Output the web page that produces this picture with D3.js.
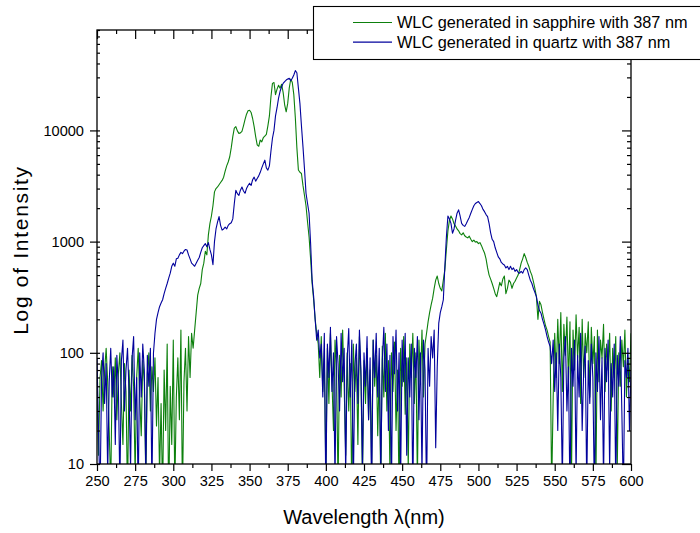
<!DOCTYPE html>
<html>
<head>
<meta charset="utf-8">
<script src="https://cdn.jsdelivr.net/npm/d3@7"></script>
<style>
  body { margin: 0; background: #fff; }
  svg { display: block; font-family: "Liberation Sans", Arial, sans-serif; }
</style>
</head>
<body>
<div id="chart"></div>
<script>
// WAVELENGTH GRID (nm), one reading per nm
const wavelengths = d3.range(250, 601, 1);

// SAPPHIRE SPECTRUM, 250..600 nm
const sapphire = [
  45, 12, 60, 85, 30, 70, 110, 55, 20, 6,
  75, 40, 90, 25, 65, 100, 35, 15, 80, 45,
  5, 70, 30, 95, 50, 8, 60, 110, 40, 18,
  85, 55, 7, 65, 100, 30, 75, 45, 90, 22,
  60, 8, 35, 5, 70, 20, 120, 4, 50, 15,
  130, 6, 40, 90, 25, 160, 5, 55, 110, 30,
  140, 60, 150, 110, 160, 230, 330, 380, 420, 560,
  640, 820, 760, 1150, 1450, 1700, 2100, 2800, 3000, 3100,
  3250, 3400, 3550, 3800, 4300, 4800, 5200, 5800, 7000, 8800,
  10500, 10800, 9900, 9400, 9500, 9800, 11000, 12500, 14000, 15000,
  15200, 14500, 12800, 10800, 8800, 7400, 7200, 8200, 7900, 8600,
  8900, 9200, 11000, 13500, 20000, 26500, 27000, 21000, 23500, 25500,
  24000, 26000, 22000, 17000, 14700, 17500, 24000, 29000, 27000, 21000,
  13000, 7000, 4400, 4200, 4100, 3200, 2600, 2100, 1500, 1100,
  700, 420, 300, 200, 150, 120, 60, 140, 45, 90,
  8, 110, 35, 150, 55, 20, 130, 70, 6, 95,
  40, 160, 50, 12, 100, 30, 80, 5, 120, 45,
  90, 15, 140, 60, 7, 85, 35, 110, 25, 70,
  9, 130, 50, 95, 18, 75, 6, 115, 40, 150,
  30, 85, 8, 100, 45, 125, 20, 70, 5, 110,
  50, 140, 28, 90, 9, 120, 60, 150, 35, 100,
  7, 130, 55, 160, 40, 120, 150, 190, 230, 270,
  310, 380, 450, 490, 420, 380, 360, 450, 560, 850,
  1250, 1550, 1700, 1600, 1450, 1380, 1300, 1250, 1180, 1150,
  1200, 1130, 1100, 1080, 1120, 1050, 1000, 1030, 990, 1000,
  960, 980, 920, 850, 790, 700, 580, 500, 460, 420,
  380, 340, 320, 370, 430, 400, 460, 490, 340, 380,
  450, 430, 380, 420, 440, 470, 500, 560, 640, 700,
  780, 720, 650, 600, 540, 500, 440, 380, 320, 200,
  290, 270, 230, 200, 175, 160, 140, 125, 6, 40,
  150, 60, 200, 80, 230, 45, 180, 95, 210, 55,
  190, 8, 160, 70, 220, 90, 170, 35, 200, 60,
  150, 100, 190, 40, 170, 80, 140, 7, 160, 55,
  130, 90, 180, 45, 120, 70, 150, 30, 110, 60,
  140, 9, 100, 50, 130, 75, 160, 40, 90, 55,
  150
];

// QUARTZ SPECTRUM, 250..600 nm
const quartz = [
  90, 20, 5, 60, 100, 35, 80, 8, 55, 110,
  40, 75, 15, 95, 50, 6, 85, 130, 30, 70,
  110, 45, 9, 90, 140, 25, 60, 5, 100, 40,
  120, 70, 8, 95, 50, 110, 6, 99, 150, 200,
  230, 260, 280, 300, 340, 380, 420, 470, 520, 600,
  640, 600, 700, 710, 760, 800, 780, 820, 850, 840,
  760, 700, 640, 620, 600, 640, 680, 720, 800, 880,
  920, 960, 900, 980, 850, 760, 620, 1000, 1300, 1500,
  1680, 1400, 1270, 1300, 1350, 1300, 1400, 1450, 1480, 1600,
  2200, 2900, 2700, 2600, 2900, 3100, 2850, 2720, 3000, 3200,
  3350, 3200, 3600, 3800, 3500, 3700, 3900, 4200, 4600, 5000,
  5400, 4600, 4400, 4800, 6500, 8500, 10000, 13500, 16000, 19500,
  22500, 24700, 26500, 27500, 28400, 29000, 29400, 28000, 29500, 31500,
  34500, 33000, 24000, 17500, 11000, 7150, 4500, 2720, 2200, 1800,
  968, 450, 320, 198, 130, 160, 90, 120, 40, 150,
  5, 120, 60, 170, 45, 100, 7, 140, 80, 30,
  150, 55, 110, 8, 90, 165, 40, 130, 6, 75,
  120, 35, 160, 70, 9, 100, 50, 140, 25, 90,
  5, 130, 60, 150, 40, 110, 8, 85, 170, 45,
  120, 20, 95, 6, 140, 65, 160, 30, 100, 7,
  130, 55, 150, 12, 90, 40, 120, 5, 110, 60,
  140, 25, 100, 8, 130, 70, 5, 110, 50, 140,
  90, 160, 14, 75, 185, 230, 260, 300, 600, 1100,
  1700, 1600, 1460, 1190, 1300, 1550, 1800, 1930, 1700, 1460,
  1400, 1370, 1450, 1550, 1650, 1800, 1950, 2100, 2200, 2250,
  2290, 2200, 2100, 1950, 1860, 1750, 1680, 1450, 1200, 1050,
  1000, 880, 800, 730, 700, 650, 630, 617, 580, 600,
  560, 600, 560, 580, 540, 560, 530, 520, 540, 520,
  560, 580, 560, 500, 450, 422, 380, 350, 320, 270,
  240, 227, 200, 180, 161, 140, 125, 114, 80, 130,
  45, 100, 20, 120, 60, 7, 90, 140, 30, 75,
  5, 110, 50, 130, 8, 95, 40, 150, 20, 70,
  115, 6, 85, 35, 120, 60, 5, 100, 45, 140,
  25, 90, 7, 110, 55, 130, 9, 80, 40, 120,
  6, 95, 50, 140, 30, 5, 85, 60, 110, 20,
  70
];

// AXIS TICKS AND LABELS
const xTicks = [250, 275, 300, 325, 350, 375, 400, 425, 450, 475, 500, 525, 550, 575, 600];
const yTicks = [10, 100, 1000, 10000];
const seriesNames = ["WLC generated in sapphire with 387 nm", "WLC generated in quartz with 387 nm"];
const seriesColors = ["#0d800d", "#02029c"];

// SVG SIZE AND PLOT BOX
const w = 700;
const h = 533;
const pLeft = 97, pRight = 631, pTop = 30, pBottom = 464;

const svg = d3.select("#chart").append("svg").attr("width", w).attr("height", h);

const xScale = d3.scaleLinear().domain([250, 600]).range([pLeft, pRight]);
const yScale = d3.scaleLog().domain([10, 80000]).range([pBottom, pTop]);

// minor ticks: halfway between x majors, 2..9 per decade on y
const xMinor = d3.pairs(xTicks).map(([a, b]) => (a + b) / 2);
const yMinor = [];
yTicks.forEach((d) => {
  for (let k = 2; k <= 9; k++) if (d * k <= 80000) yMinor.push(d * k);
});

// CLIP THE SPECTRA TO THE PLOT BOX
svg.append("clipPath").attr("id", "plot-clip")
  .append("rect")
  .attr("x", pLeft).attr("y", pTop)
  .attr("width", pRight - pLeft).attr("height", pBottom - pTop);

const line = d3.line()
  .x((d) => xScale(d[0]))
  .y((d) => yScale(Math.max(d[1], 1)));

[sapphire, quartz].forEach((series, i) => {
  const pts = wavelengths.map((wl, j) => [wl, series[j]]);
  svg.append("path")
    .datum(pts)
    .attr("clip-path", "url(#plot-clip)")
    .attr("fill", "none")
    .attr("stroke", seriesColors[i])
    .attr("stroke-width", 1.1)
    .attr("stroke-linejoin", "round")
    .attr("d", line);
});

// AXES
function addAxis(axis, tx, ty) {
  const g = svg.append("g")
    .attr("transform", "translate(" + tx + "," + ty + ")")
    .call(axis);
  g.select(".domain").remove();
  g.selectAll("line").attr("stroke", "#000").attr("stroke-width", 1.2);
  g.selectAll("text").attr("fill", "#000").style("font-size", "14.6px");
  return g;
}

// bottom: ticks point out
addAxis(d3.axisBottom(xScale).tickValues(xTicks).tickSize(7).tickPadding(5), 0, pBottom);
addAxis(d3.axisBottom(xScale).tickValues(xMinor).tickSize(4).tickFormat(""), 0, pBottom);
// top: ticks point in
addAxis(d3.axisTop(xScale).tickValues(xTicks).tickSize(-9).tickFormat(""), 0, pTop);
addAxis(d3.axisTop(xScale).tickValues(xMinor).tickSize(-4).tickFormat(""), 0, pTop);
// left: majors out, minors in
addAxis(d3.axisLeft(yScale).tickValues(yTicks).tickSize(7).tickPadding(6).tickFormat(d3.format("d")), pLeft, 0);
addAxis(d3.axisLeft(yScale).tickValues(yTicks).tickSize(-3).tickFormat(""), pLeft, 0);
addAxis(d3.axisLeft(yScale).tickValues(yMinor).tickSize(-3).tickFormat(""), pLeft, 0);
// right: ticks point in
addAxis(d3.axisRight(yScale).tickValues(yTicks).tickSize(-9).tickFormat(""), pRight, 0);
addAxis(d3.axisRight(yScale).tickValues(yMinor).tickSize(-4).tickFormat(""), pRight, 0);

// FRAME
svg.append("rect")
  .attr("x", pLeft).attr("y", pTop)
  .attr("width", pRight - pLeft).attr("height", pBottom - pTop)
  .attr("fill", "none")
  .attr("stroke", "#000")
  .attr("stroke-width", 1.3);

// AXIS TITLES
svg.append("text")
  .attr("x", (pLeft + pRight) / 2)
  .attr("y", 524)
  .attr("text-anchor", "middle")
  .style("font-size", "20px")
  .text("Wavelength \u03bb(nm)");

svg.append("text")
  .attr("transform", "translate(28,250) rotate(-90)")
  .attr("text-anchor", "middle")
  .style("font-size", "21px")
  .style("letter-spacing", "1.7px")
  .text("Log of Intensity");

// LEGEND
const legend = svg.append("g").attr("id", "legend");
legend.append("rect")
  .attr("x", 313.5).attr("y", 6.5)
  .attr("width", 400).attr("height", 53)
  .attr("fill", "#fff")
  .attr("stroke", "#000")
  .attr("stroke-width", 1.1);

seriesNames.forEach((name, i) => {
  const ly = 22.5 + i * 19.7;
  legend.append("line")
    .attr("x1", 353).attr("x2", 392)
    .attr("y1", ly).attr("y2", ly)
    .attr("stroke", seriesColors[i])
    .attr("stroke-width", 1.2);
  legend.append("text")
    .attr("x", 397)
    .attr("y", ly + 5.5)
    .style("font-size", "16.3px")
    .text(name);
});
</script>
</body>
</html>
